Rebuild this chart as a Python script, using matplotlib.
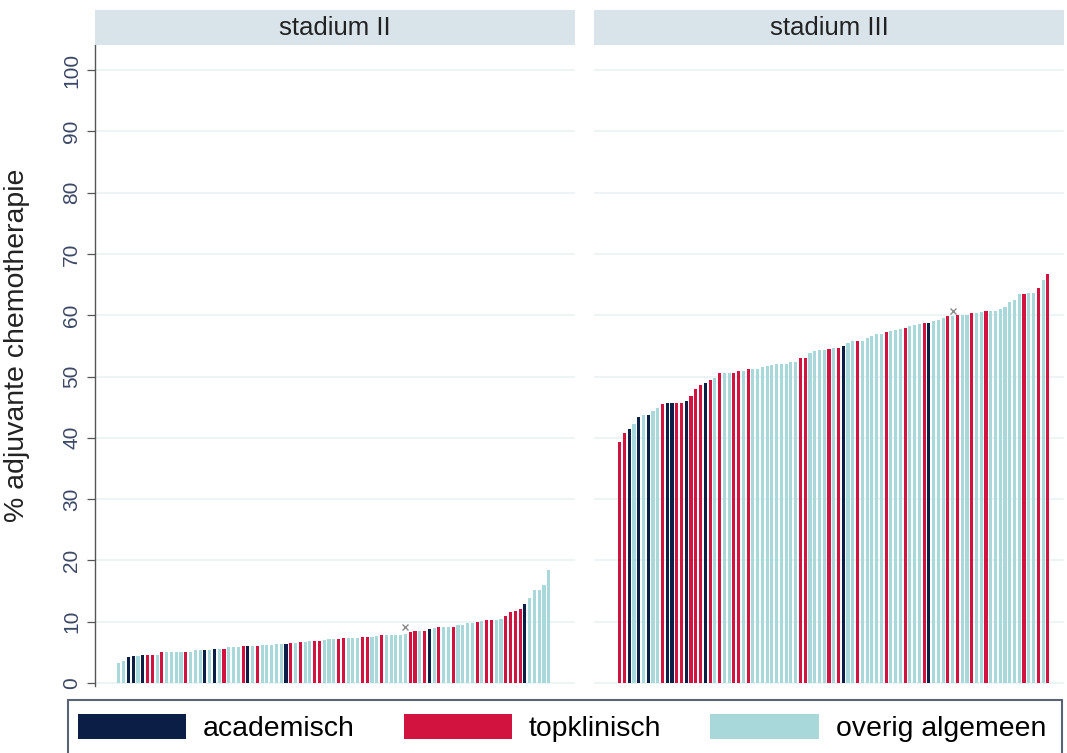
import matplotlib.pyplot as plt
from matplotlib.patches import Patch, Rectangle

plt.rcParams['font.family'] = ['Liberation Sans', 'DejaVu Sans']

# percentage adjuvant chemotherapy per hospital, sorted ascending
stadium2_pct = [3.3, 3.6, 4.2, 4.4, 4.4, 4.6, 4.6, 4.6, 4.6, 5.0,
                5.0, 5.0, 5.0, 5.1, 5.1, 5.1, 5.4, 5.4, 5.4, 5.4,
                5.5, 5.6, 5.6, 5.8, 5.8, 5.8, 6.0, 6.0, 6.0, 6.1,
                6.2, 6.2, 6.2, 6.3, 6.4, 6.4, 6.5, 6.5, 6.6, 6.7,
                6.8, 6.9, 6.9, 7.0, 7.1, 7.1, 7.2, 7.3, 7.3, 7.3,
                7.4, 7.5, 7.5, 7.5, 7.6, 7.8, 7.8, 7.9, 7.9, 7.9,
                8.0, 8.3, 8.5, 8.5, 8.5, 8.8, 8.9, 9.1, 9.1, 9.2,
                9.2, 9.5, 9.5, 9.7, 9.8, 10.0, 10.1, 10.2, 10.2, 10.3,
                10.4, 10.9, 11.6, 11.8, 12.1, 12.8, 13.9, 15.2, 15.2, 16.0,
                18.4]
# hospital type per bar: A = academisch, T = topklinisch, O = overig algemeen
stadium2_type = ("OOAAOATTOT" "OOOOTOOOAO" "AOTOOOTAOT" "OOOOOATOTO"
                 "OTTOOOTTOO" "OTTOOTOOOO" "OTTOTAOTOO" "TOOOOTOTTO"
                 "OTTTTAOOOO" "O")

stadium3_pct = [39.3, 40.8, 41.5, 42.2, 43.4, 43.8, 43.8, 44.4, 44.9, 45.5,
                45.7, 45.7, 45.7, 45.7, 46.0, 46.8, 47.9, 48.6, 48.9, 49.5,
                49.8, 50.5, 50.5, 50.5, 50.6, 50.9, 50.9, 51.2, 51.3, 51.3,
                51.5, 51.7, 51.9, 52.0, 52.0, 52.1, 52.3, 52.4, 53.0, 53.1,
                53.8, 54.2, 54.3, 54.3, 54.5, 54.7, 54.7, 55.0, 55.5, 55.8,
                55.8, 55.8, 56.3, 56.6, 56.9, 56.9, 57.2, 57.4, 57.6, 57.7,
                57.9, 58.2, 58.4, 58.6, 58.8, 58.8, 59.1, 59.3, 59.6, 59.8,
                59.9, 60.1, 60.1, 60.1, 60.3, 60.3, 60.5, 60.7, 60.7, 60.7,
                61.0, 61.3, 62.2, 62.5, 63.5, 63.5, 63.6, 63.7, 64.5, 65.7,
                66.7]
stadium3_type = ("TTAOAOAOOT" "AATTATTTAT" "OTOOTTOTOO" "OOOOOOOOTT"
                 "OOOOTOTAOO" "TOOOOOTOOO" "TOOOTAOOOT" "OTOOTOOTOO"
                 "OOOOOTOOTO" "T")

# highlighted hospital (rank, value) per stage
stadium2_mark = (61, 9.1)
stadium3_mark = (71, 60.7)

type_labels = {'A': 'academisch', 'T': 'topklinisch', 'O': 'overig algemeen'}
type_colors = {'A': '#0b1e45', 'T': '#d2123f', 'O': '#a8d8d9'}

W, H = 1067, 753
fig = plt.figure(figsize=(W / 100, H / 100), dpi=100)


def panel(left, width, xlim, pct, types, mark, title, first):
    ax = fig.add_axes([left / W, 1 - 686 / H, width / W, (686 - 45) / H])
    x = range(1, len(pct) + 1)
    ax.bar(x, pct, width=0.65, color=[type_colors[t] for t in types],
           linewidth=0, zorder=2)
    ax.plot(*mark, marker='x', color='#8c8c8c', ms=5, mew=1, zorder=3)
    ax.set_xlim(*xlim)
    ax.set_ylim(-0.5, 104.1)
    ax.set_yticks(range(0, 101, 10))
    ax.grid(axis='y', color='#e9f2f4', lw=1.2, zorder=0)
    ax.set_xticks([])
    for s in ['top', 'right', 'bottom']:
        ax.spines[s].set_visible(False)
    if first:
        ax.spines['left'].set_color('#555555')
        ax.spines['left'].set_linewidth(1.0)
        ax.tick_params(axis='y', length=6, width=0.9, color='#555555',
                       labelsize=15, labelcolor='#3b4866', pad=4)
        for lbl in ax.get_yticklabels():
            lbl.set_rotation(90)
            lbl.set_va('center')
        ax.set_ylabel('% adjuvante chemotherapie', fontsize=20.5,
                      color='#222222')
        ax.yaxis.set_label_coords(-0.135, 0.532)
    else:
        ax.spines['left'].set_visible(False)
        ax.tick_params(axis='y', length=0, labelleft=False)

    strip = fig.add_axes([left / W, 1 - 45 / H, width / W, 35 / H])
    strip.set_facecolor('#d9e4ea')
    strip.set_xticks([])
    strip.set_yticks([])
    for s in strip.spines.values():
        s.set_visible(False)
    strip.text(0.5, 0.48, title, ha='center', va='center', fontsize=18.5,
               color='#222222', transform=strip.transAxes)
    return ax


panel(95, 480, (-4.0, 96.5), stadium2_pct, stadium2_type, stadium2_mark,
      'stadium II', True)
panel(594, 470, (-4.4, 94.4), stadium3_pct, stadium3_type, stadium3_mark,
      'stadium III', False)

# legend entries, with the surrounding box drawn across the full width
handles = [Patch(facecolor=type_colors[k], edgecolor='none') for k in 'ATO']
labels = [type_labels[k] for k in 'ATO']
fig.legend(handles, labels, loc='center left',
           bbox_to_anchor=(78 / W, 1 - 728 / H), ncol=3, fontsize=20.4,
           frameon=False, handlelength=3.82, handleheight=1.0,
           handletextpad=0.6, columnspacing=1.72, borderpad=0,
           borderaxespad=0)
fig.patches.append(Rectangle((68 / W, -0.01), 994 / W, 0.01 + 53 / H,
                             transform=fig.transFigure, fill=False,
                             edgecolor='#5b6474', linewidth=1.5))

fig.savefig('out.png', dpi=100)
